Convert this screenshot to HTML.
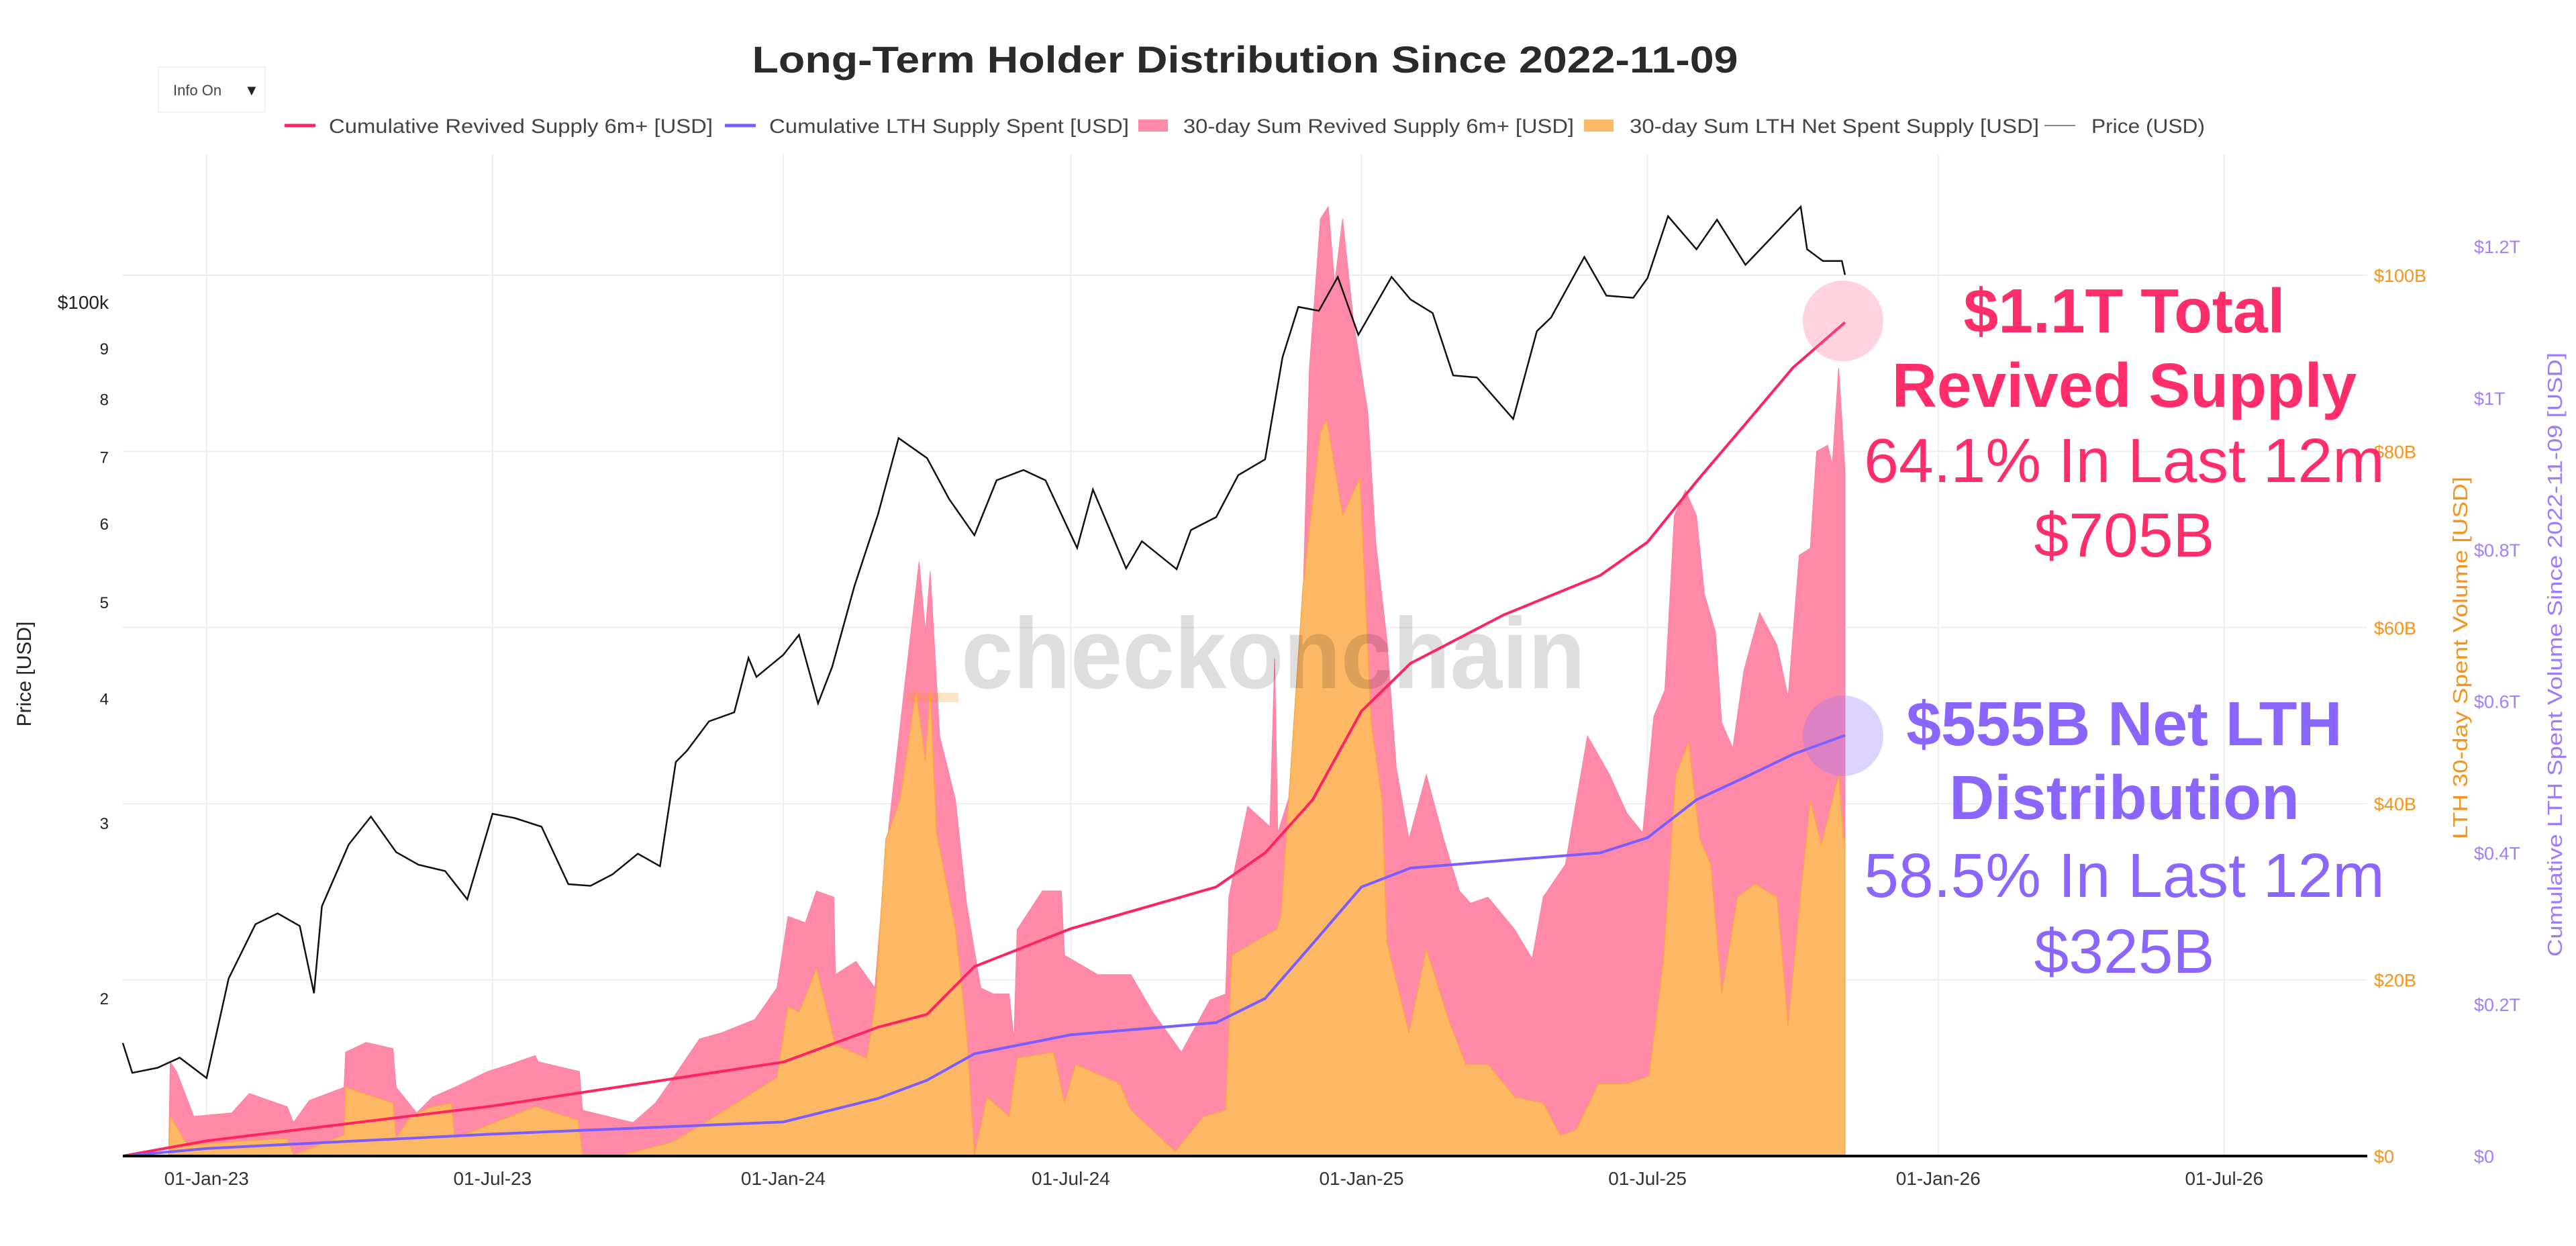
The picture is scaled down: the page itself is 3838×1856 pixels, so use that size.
<!DOCTYPE html>
<html><head><meta charset="utf-8"><style>
html,body{margin:0;padding:0;background:#fff;}
svg{display:block;font-family:"Liberation Sans",sans-serif;}
</style></head><body>
<svg id="chart" width="3838" height="1856" viewBox="0 0 3838 1856" xmlns="http://www.w3.org/2000/svg">
<rect width="3838" height="1856" fill="#fff"/>
<text x="1855" y="108" text-anchor="middle" font-size="56" font-weight="bold" fill="#2a2a2a" textLength="1469" lengthAdjust="spacingAndGlyphs">Long-Term Holder Distribution Since 2022-11-09</text>
<g>
<rect x="236" y="100" width="159" height="67" fill="#fff" stroke="#f2f2f2" stroke-width="2"/>
<text x="258" y="142" font-size="22" fill="#444">Info On</text>
<text x="364" y="142" font-size="22" fill="#222">▼</text>
</g>
<g id="grid"></g>
<g id="areas"></g>
<g>
<text x="1897" y="1025" text-anchor="middle" font-size="150" font-weight="bold" fill="#000" fill-opacity="0.13" textLength="930" lengthAdjust="spacingAndGlyphs">checkonchain</text>
<rect x="1353" y="1032" width="75" height="14" fill="#f7931a" fill-opacity="0.25"/>
</g>
<g id="lines"></g>
<g id="axes"></g>
<g id="legend"></g>
<g>
<circle cx="2746" cy="478" r="60" fill="#ff6b96" fill-opacity="0.3"/>
<circle cx="2746" cy="1096" r="60" fill="#8c6eff" fill-opacity="0.3"/>
<g font-size="93" text-anchor="middle" fill="#ff2e6a">
<text x="3165" y="495" font-weight="bold">$1.1T Total</text>
<text x="3165" y="606" font-weight="bold">Revived Supply</text>
<text x="3165" y="718">64.1% In Last 12m</text>
<text x="3165" y="829">$705B</text>
</g>
<g font-size="93" text-anchor="middle" fill="#8a66ff">
<text x="3165" y="1110" font-weight="bold">$555B Net LTH</text>
<text x="3165" y="1220" font-weight="bold">Distribution</text>
<text x="3165" y="1336">58.5% In Last 12m</text>
<text x="3165" y="1449">$325B</text>
</g>
</g>
</svg>
<script>
// ---- data ----
const xTickLabels = ["01-Jan-23","01-Jul-23","01-Jan-24","01-Jul-24","01-Jan-25","01-Jul-25","01-Jan-26","01-Jul-26"];
const xTickDates = ["2023-01-01","2023-07-01","2024-01-01","2024-07-01","2025-01-01","2025-07-01","2026-01-01","2026-07-01"];
const priceTicks = [20000,30000,40000,50000,60000,70000,80000,90000,100000];
const priceTickLabels = ["2","3","4","5","6","7","8","9","$100k"];
const volTicks = [0,20,40,60,80,100];
const volTickLabels = ["$0","$20B","$40B","$60B","$80B","$100B"];
const cumTicks = [0,0.2,0.4,0.6,0.8,1.0,1.2];
const cumTickLabels = ["$0","$0.2T","$0.4T","$0.6T","$0.8T","$1T","$1.2T"];

const priceDates = ["2022-11-09","2022-11-15","2022-12-01","2022-12-15","2023-01-01","2023-01-15","2023-02-01","2023-02-15","2023-03-01","2023-03-10","2023-03-15","2023-04-01","2023-04-15","2023-05-01","2023-05-15","2023-06-01","2023-06-15","2023-07-01","2023-07-15","2023-08-01","2023-08-18","2023-09-01","2023-09-15","2023-10-01","2023-10-15","2023-10-25","2023-11-01","2023-11-15","2023-12-01","2023-12-10","2023-12-15","2024-01-01","2024-01-11","2024-01-23","2024-02-01","2024-02-15","2024-03-01","2024-03-14","2024-04-01","2024-04-15","2024-05-01","2024-05-15","2024-06-01","2024-06-15","2024-07-05","2024-07-15","2024-08-05","2024-08-15","2024-09-06","2024-09-15","2024-10-01","2024-10-15","2024-11-01","2024-11-12","2024-11-22","2024-12-05","2024-12-17","2024-12-30","2025-01-20","2025-02-01","2025-02-15","2025-02-28","2025-03-15","2025-04-07","2025-04-22","2025-05-01","2025-05-22","2025-06-05","2025-06-22","2025-07-01","2025-07-14","2025-08-01","2025-08-14","2025-09-01","2025-09-15","2025-10-06","2025-10-10","2025-10-20","2025-11-01","2025-11-03"];
const priceValues = [18000,16800,17000,17400,16600,20900,23700,24300,23600,20200,24700,28500,30400,28000,27200,26800,25100,30600,30300,29700,26000,25900,26600,27900,27100,34500,35400,37900,38700,43900,42000,44200,46300,39500,43000,51800,61200,73000,69700,63400,58300,66200,67800,66200,56600,64800,54000,57500,53900,59000,60800,67000,69500,88000,98900,98000,106000,92700,106000,100600,97500,84400,84000,76300,93500,96500,111000,101500,101000,105700,122000,113000,121000,109000,115000,124700,113000,110000,110000,106500];

const cumDates = ["2022-11-09","2023-01-01","2023-07-01","2024-01-01","2024-03-01","2024-04-01","2024-05-01","2024-07-01","2024-10-01","2024-11-01","2024-12-01","2025-01-01","2025-02-01","2025-04-01","2025-06-01","2025-07-01","2025-08-01","2025-09-01","2025-10-01","2025-11-03"];
const cumRevived = [0,0.02,0.066,0.124,0.17,0.187,0.25,0.30,0.355,0.40,0.47,0.587,0.65,0.714,0.766,0.81,0.89,0.966,1.04,1.1];
const cumLTH = [0,0.01,0.029,0.045,0.076,0.10,0.135,0.16,0.176,0.208,0.28,0.355,0.38,0.39,0.40,0.42,0.47,0.50,0.53,0.555];

const revivedDays = [29,30,34,45,69,80,104,108,118,140,141,154,171,173,186,196,210,231,245,261,263,289,291,316,323,337,351,365,379,400,414,421,432,439,450,451,464,476,483,495,504,508,511,517,527,534,543,551,561,564,566,582,594,596,617,638,652,670,688,698,700,712,726,729,731,744,751,758,763,767,772,779,788,793,800,806,814,825,836,846,853,864,881,892,899,913,920,927,941,952,962,969,976,982,989,996,1001,1008,1012,1019,1026,1036,1047,1054,1061,1068,1072,1079,1082,1086,1090];
const revivedValues = [0,10.7,9.6,4.5,4.9,7.1,5.6,3.8,6.3,7.8,11.8,12.9,12.2,7.8,4.9,6.7,7.8,9.6,10.4,11.4,10.7,9.6,5.2,4.1,3.8,6.0,9.6,13.3,14.0,15.5,19.1,27.2,26.5,30.1,29.4,20.6,22.1,19.1,34.5,53.6,67.5,59.5,66.4,47.7,40.4,28.7,19.1,18.4,18.4,13.3,25.7,30.1,30.1,22.8,20.6,20.6,16.3,11.8,17.7,18.4,29.4,39.7,37.4,56.5,36.7,44.1,89.5,106.4,107.8,99.0,106.4,94.7,84.4,69.7,58.7,44.1,36.0,43.3,36.0,30.1,28.7,29.4,25.7,22.4,29.4,33.1,40.4,47.7,43.3,38.9,36.7,49.9,52.9,72.7,75.6,72.7,63.8,59.5,49.2,46.3,55.1,61.7,58.0,52.1,68.2,69.0,80.0,80.7,78.5,89.5,77.8];
const lthDays = [29,30,41,69,104,108,140,141,171,173,182,196,208,210,261,288,291,316,348,365,414,421,428,439,451,471,476,483,492,502,508,511,515,527,534,539,547,561,566,589,596,603,631,638,652,666,684,698,702,723,730,733,747,758,762,772,783,790,797,800,807,814,825,839,850,864,881,899,910,920,934,952,966,975,983,991,998,1005,1012,1022,1033,1047,1054,1061,1068,1075,1086,1089,1090];
const lthValues = [0,4.5,1.2,1.6,2.0,0.1,2.4,7.8,6.0,2.0,4.5,5.6,6.0,2.0,5.6,4.1,0.1,0.1,1.6,3.4,8.9,17.0,16.3,21.3,12.6,11.1,17.0,36.0,40.4,52.9,44.8,52.9,36.7,25.7,14.0,0.1,6.7,4.5,11.1,11.8,6.0,10.4,8.2,5.2,2.9,0.5,4.5,5.2,22.8,25.0,25.7,27.2,64.6,82.2,83.6,72.7,77.0,49.2,40.4,24.3,19.1,14.0,23.5,15.5,10.4,10.4,6.7,6.0,2.3,3.0,8.2,8.2,9.1,22.1,43.3,47.0,36.0,33.1,18.4,29.4,30.9,29.4,14.8,28.0,40.4,35.3,43.3,36.0,36.0];

// ---- scales ----
const X0=183, PXDAY=2.354, START=Date.UTC(2022,10,9), XR=3527, YB=1722, YT=230;
function dayOf(s){const p=s.split('-');return (Date.UTC(+p[0],+p[1]-1,+p[2])-START)/86400000;}
function xDay(d){return X0+d*PXDAY;}
function yPrice(p){return 450-(Math.log10(p)-5)*1482;}
function yVol(b){return YB-b*13.12;}
function yCum(t){return YB-t*1129;}
const NS="http://www.w3.org/2000/svg";
function mk(tag,attrs,parent){const e=document.createElementNS(NS,tag);for(const k in attrs)e.setAttribute(k,attrs[k]);parent.appendChild(e);return e;}
const grid=document.getElementById('grid'),areas=document.getElementById('areas'),lines=document.getElementById('lines'),axes=document.getElementById('axes'),legend=document.getElementById('legend');

// grid
xTickDates.forEach((d,i)=>{const x=xDay(dayOf(d));
 const g=mk('line',{x1:x,x2:x,y1:YT,y2:YB,stroke:'#eeeeee','stroke-width':2},grid);
 
 
 const t=mk('text',{x:x,y:1765,'text-anchor':'middle','font-size':28,fill:'#333'},axes);
 t.textContent=xTickLabels[i];
 
 
});
volTicks.forEach((v,i)=>{const y=yVol(v);
 if(v>0){const g=mk('line',{x1:X0,x2:XR,y1:y,y2:y,stroke:'#eeeeee','stroke-width':2},grid);
 
 }
 const t=mk('text',{x:3537,y:y+10,'font-size':27,fill:'#f7931a'},axes);
 t.textContent=volTickLabels[i];
 
 
});
cumTicks.forEach((v,i)=>{const t=mk('text',{x:3686,y:yCum(v)+10,'font-size':27,fill:'#a27dff'},axes);
 t.textContent=cumTickLabels[i];
 
 
});
priceTicks.forEach((p,i)=>{const t=mk('text',{x:162,y:yPrice(p)+10,'text-anchor':'end','font-size':p===100000?28:24,fill:'#222'},axes);
 t.textContent=priceTickLabels[i];
 
 
});
// axis titles
let t=mk('text',{x:0,y:0,'text-anchor':'middle','font-size':30,fill:'#222',transform:'translate(46,1004) rotate(-90)'},axes);
t.textContent='Price [USD]';


t=mk('text',{x:0,y:0,'text-anchor':'middle','font-size':31,fill:'#f7931a',transform:'translate(3676,980) rotate(-90)',textLength:540,lengthAdjust:'spacingAndGlyphs'},axes);
t.textContent='LTH 30-day Spent Volume [USD]';


t=mk('text',{x:0,y:0,'text-anchor':'middle','font-size':31,fill:'#9f7aff',transform:'translate(3817,975) rotate(-90)',textLength:900,lengthAdjust:'spacingAndGlyphs'},axes);
t.textContent='Cumulative LTH Spent Volume Since 2022-11-09 [USD]';



// areas
function areaPath(days,vals){let d='M'+xDay(days[0])+','+YB;days.forEach((dd,i)=>{d+=' L'+xDay(dd).toFixed(1)+','+yVol(vals[i]).toFixed(1);});d+=' L'+xDay(days[days.length-1])+','+YB+' Z';return d;}
const pa=mk('path',{d:areaPath(revivedDays,revivedValues),fill:'#ff8aa8',stroke:'#ff7fa0','stroke-width':1},areas);


const oa=mk('path',{d:areaPath(lthDays,lthValues),fill:'#fdb866',stroke:'#f9a845','stroke-width':1.5},areas);



// lines
function linePath(xs,ys){return xs.map((x,i)=>(i?'L':'M')+x.toFixed(1)+','+ys[i].toFixed(1)).join(' ');}
const pl=mk('path',{d:linePath(priceDates.map(d=>xDay(dayOf(d))),priceValues.map(yPrice)),fill:'none',stroke:'#111','stroke-width':2.5},lines);


const cx=cumDates.map(d=>xDay(dayOf(d)));
const rl=mk('path',{d:linePath(cx,cumRevived.map(yCum)),fill:'none',stroke:'#ff2461','stroke-width':4},lines);


const ll=mk('path',{d:linePath(cx,cumLTH.map(yCum)),fill:'none',stroke:'#7b5cff','stroke-width':4},lines);


const ax=mk('line',{x1:X0,x2:XR,y1:YB,y2:YB,stroke:'#000','stroke-width':4},axes);



// legend
const legItems=[
 {type:'line',color:'#ff2461',x:424,tx:490,tw:572,label:'Cumulative Revived Supply 6m+ [USD]',name:'legend-cumulative-revived'},
 {type:'line',color:'#7b5cff',x:1080,tx:1146,tw:536,label:'Cumulative LTH Supply Spent [USD]',name:'legend-cumulative-lth'},
 {type:'box',color:'#ff8aa8',x:1696,tx:1763,tw:582,label:'30-day Sum Revived Supply 6m+ [USD]',name:'legend-revived-area'},
 {type:'box',color:'#fdb866',x:2360,tx:2428,tw:610,label:'30-day Sum LTH Net Spent Supply [USD]',name:'legend-lth-area'},
 {type:'line',color:'#888',x:3046,tx:3116,tw:169,label:'Price (USD)',name:'legend-price'}];
legItems.forEach(it=>{
 const g=mk('g',{},legend);
 
 
 if(it.type==='line')mk('line',{x1:it.x,x2:it.x+46,y1:187,y2:187,stroke:it.color,'stroke-width':it.color==='#888'?2:5},g);
 else mk('rect',{x:it.x,y:178,width:44,height:18,fill:it.color},g);
 const tt=mk('text',{x:it.tx,y:198,'font-size':30,fill:'#444',textLength:it.tw,lengthAdjust:'spacingAndGlyphs'},g);
 tt.textContent=it.label;
});
</script>
</body></html>
